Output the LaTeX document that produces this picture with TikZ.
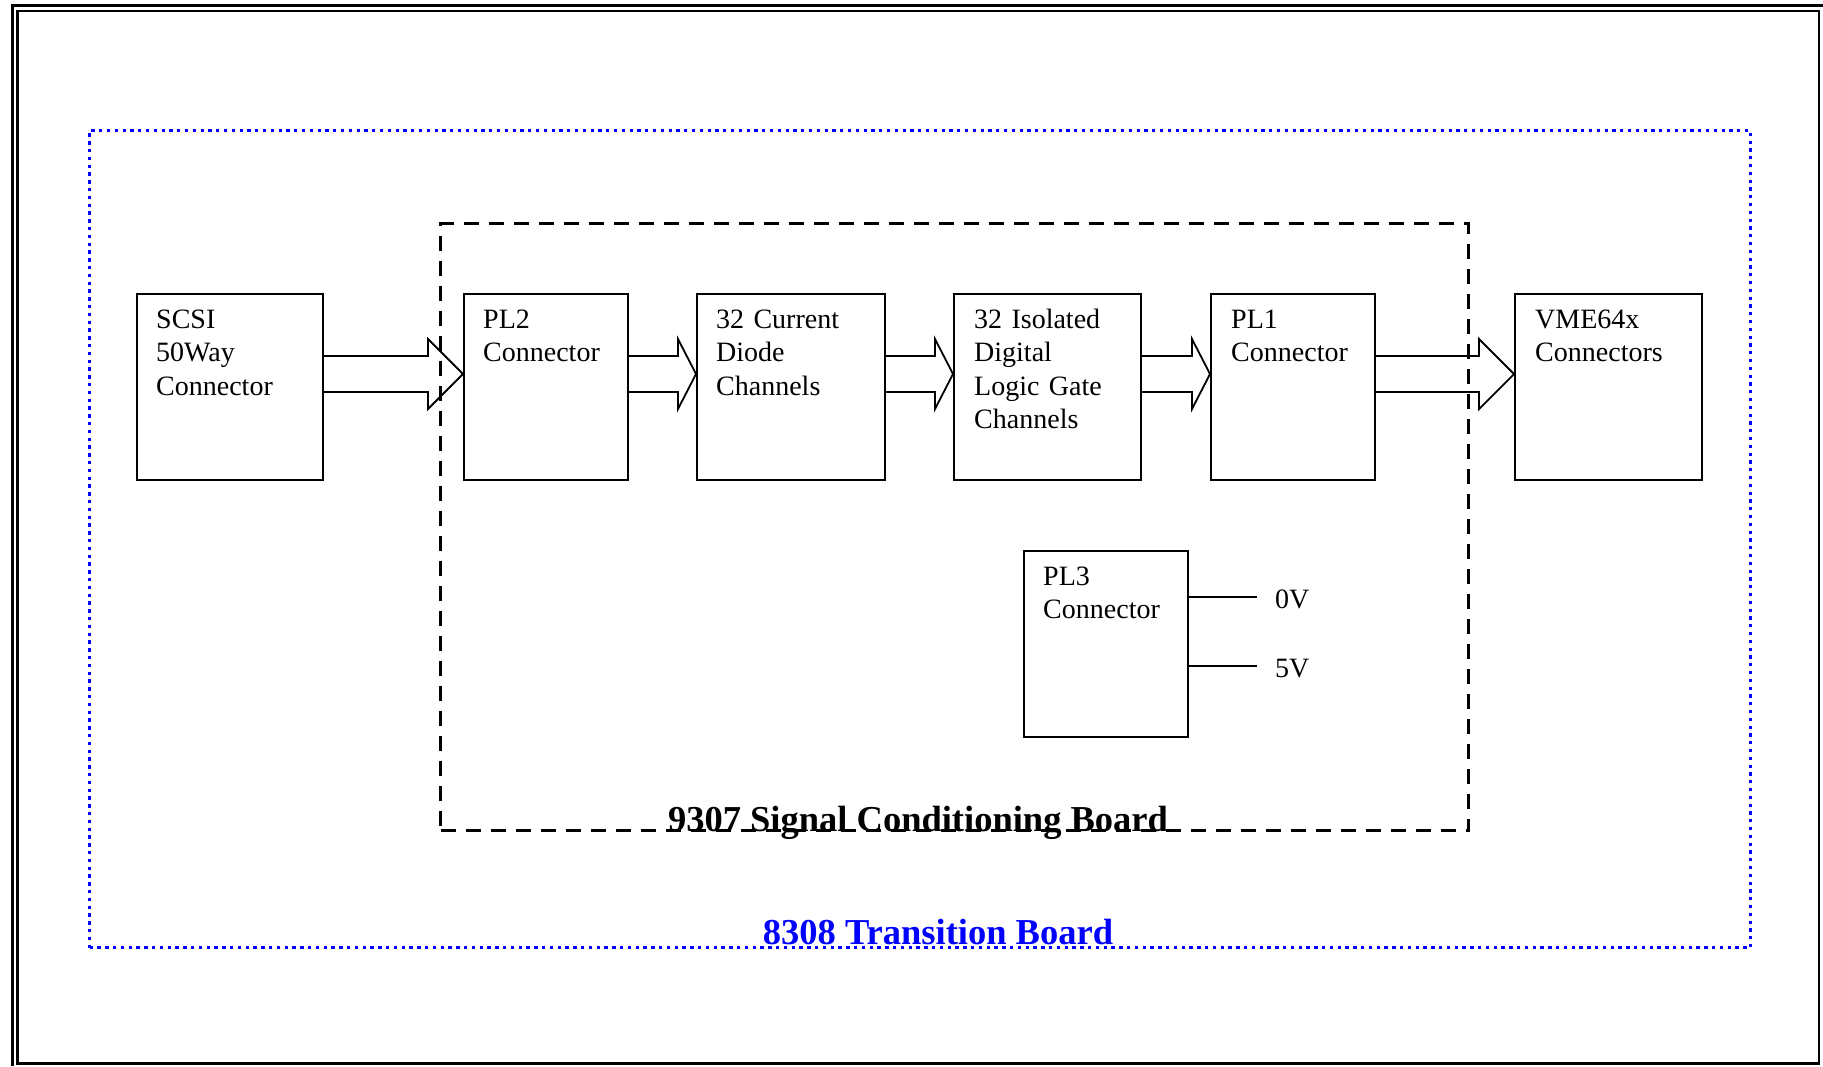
\documentclass[tikz,border=0pt]{standalone}
\usepackage{fontspec}
\setmainfont{Liberation Serif}
\usetikzlibrary{calc}
\newcommand\blkarrow[3]{%
  \draw[arr] ($(#1.north east)+(0,63)$) -- ($(#2.north west)+(-#3,63)$) -- ($(#2.north west)+(-#3,46)$) -- ($(#2.north west)+(0,81)$) -- ($(#2.north west)+(-#3,116)$) -- ($(#2.north west)+(-#3,99)$) -- ($(#1.north east)+(0,99)$);}
\begin{document}
\begin{tikzpicture}[x=1pt,y=-1pt,
  box/.style={draw, line width=2.2pt, minimum width=#1, minimum height=186pt, inner sep=0pt, anchor=north west},
  txt/.style={anchor=base west, inner sep=0pt, text width=170pt, align=left, font=\fontsize{28}{33.6}\selectfont},
  arr/.style={draw, line width=1.8pt, line join=miter},
  lead/.style={draw, line width=1.8pt},
  boldlbl/.style={anchor=base, inner sep=0pt, font=\bfseries\fontsize{36.5}{40}\selectfont}]
\useasboundingbox (0,0) rectangle (1823,1066);
% outer frame
\draw[line width=2.6pt] (12.5,1066) -- (12.5,5.5) -- (1823,5.5);
\draw[line width=2.6pt] (17.5,11) rectangle (1819,1063.5);
% boards
\node[draw=blue, line width=3.3pt, dash pattern=on 3.3pt off 4.5pt, minimum width=1661pt, minimum height=817pt, inner sep=0pt, anchor=north west] (tb) at (88,129) {};
\node[draw, line width=3.3pt, dash pattern=on 15pt off 10pt, minimum width=1028pt, minimum height=607pt, inner sep=0pt, anchor=north west] (scb) at (439,222) {};
% boxes
\node[box=186pt] (scsi) at (136,293) {};
\node[box=164pt] (pl2) at (463,293) {};
\node[box=188pt] (cur) at (696,293) {};
\node[box=187pt] (iso) at (953,293) {};
\node[box=164pt] (pl1) at (1210,293) {};
\node[box=187pt] (vme) at (1514,293) {};
\node[box=164pt] (pl3) at (1023,550) {};
% texts
\node[txt] (scsiT) at ($(scsi.north west)+(20,35)$) {SCSI\\50Way\\Connector};
\node[txt] (pl2T) at ($(pl2.north west)+(20,35)$) {PL2\\Connector};
\node[txt] (curT) at ($(cur.north west)+(20,35)$) {32 Current\\Diode\\Channels};
\node[txt] (isoT) at ($(iso.north west)+(21,35)$) {32 Isolated\\Digital\\Logic Gate\\Channels};
\node[txt] (pl1T) at ($(pl1.north west)+(21,35)$) {PL1\\Connector};
\node[txt] (vmeT) at ($(vme.north west)+(21,35)$) {VME64x\\Connectors};
\node[txt] (pl3T) at ($(pl3.north west)+(20,35)$) {PL3\\Connector};
% block arrows
\blkarrow{scsi}{pl2}{35}
\blkarrow{pl2}{cur}{18}
\blkarrow{cur}{iso}{18}
\blkarrow{iso}{pl1}{18}
\blkarrow{pl1}{vme}{35}
% PL3 leads
\coordinate (v0end) at (1257,597);
\coordinate (v5end) at (1257,666);
\draw[lead] (pl3.east |- v0end) -- (v0end);
\draw[lead] (pl3.east |- v5end) -- (v5end);
\node[txt, text width=40pt] (v0) at (1275,608) {0V};
\node[txt, text width=40pt] (v5) at (1275,677) {5V};
% board labels
\node[boldlbl] (scbL) at (918,831) {9307 Signal Conditioning Board};
\node[boldlbl, text=blue] (tbL) at (938,944) {8308 Transition Board};
\end{tikzpicture}
\end{document}
